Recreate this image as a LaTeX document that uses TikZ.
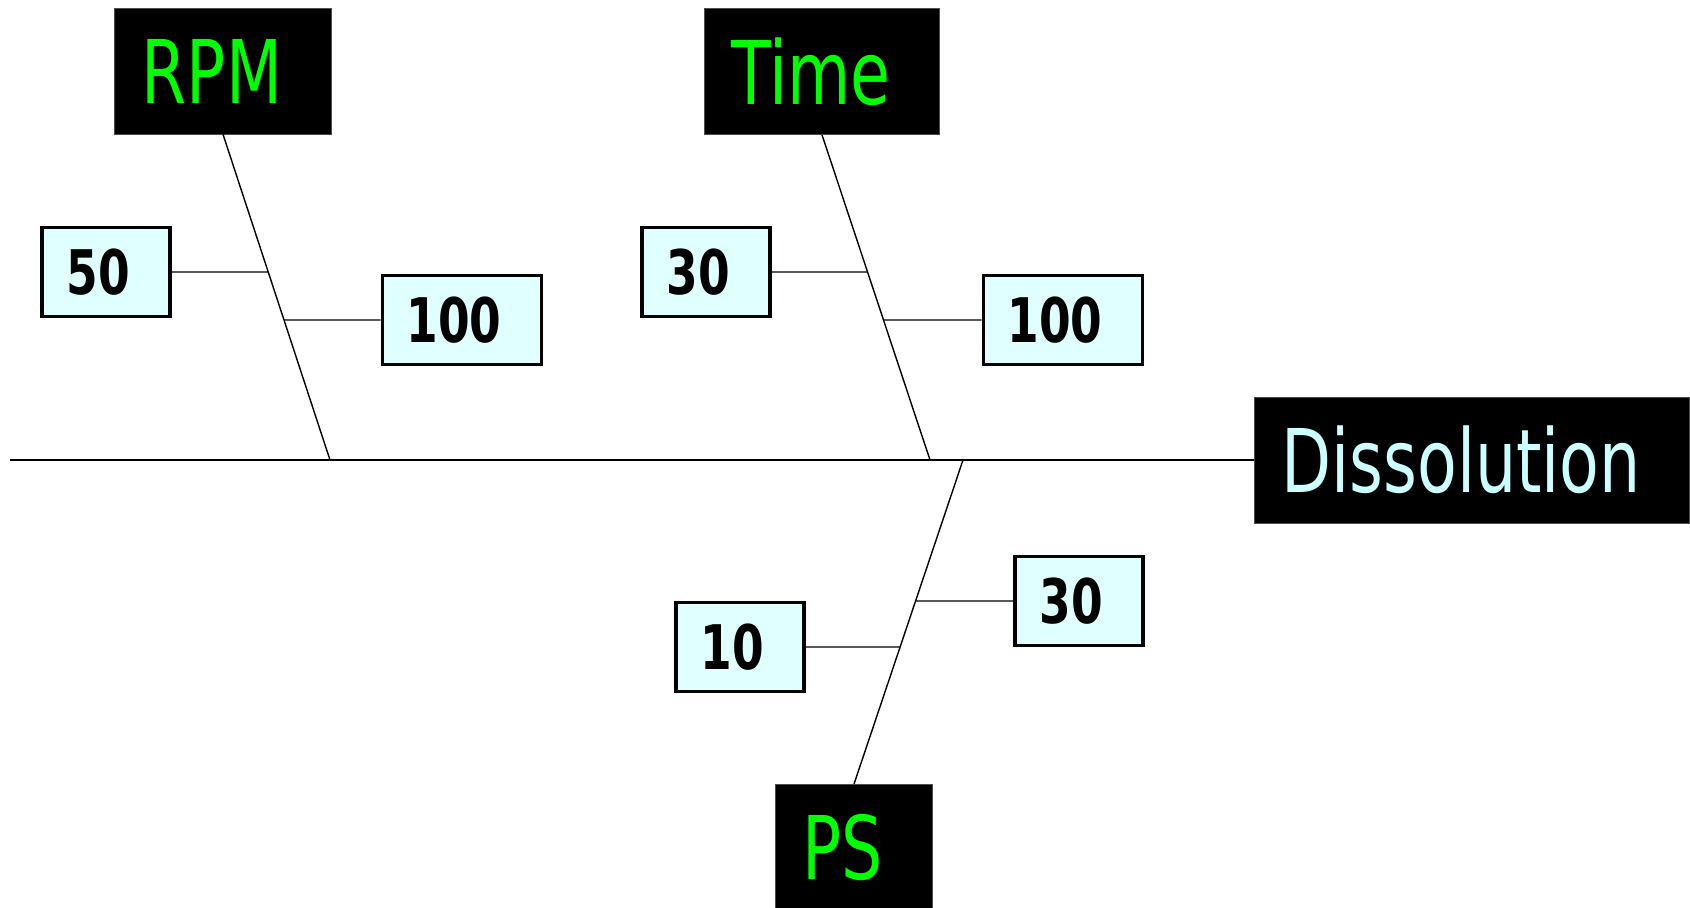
\documentclass[tikz,border=0pt]{standalone}
\usepackage{fontspec}
\newfontfamily\fishfont[FakeStretch=0.74]{DejaVu Sans}
\definecolor{causegreen}{HTML}{00FF00}
\definecolor{valfill}{HTML}{E0FFFF}
\definecolor{effecttext}{HTML}{CCFFFF}

\begin{document}
\begin{tikzpicture}[x=0.02cm, y=0.02cm,
  cause/.style={fill=black, draw=black!70, text=causegreen,
    font=\fishfont\fontsize{50}{60}\selectfont,
    inner xsep=0.54cm, inner ysep=0pt, minimum height=2.52cm},
  val/.style={fill=valfill, draw=black, line width=2.2pt,
    font=\fishfont\bfseries\fontsize{35}{42}\selectfont,
    inner xsep=0.48cm, inner ysep=0pt, minimum height=1.78cm},
  bone/.style={black, line width=0.8pt},
  rib/.style={black, line width=0.6pt}]
  \useasboundingbox (0,0) rectangle (1690,-907);
  % causes and effect
  \node [cause] (rpm) at (223,-71) {RPM\kern0.44cm};
  \node [cause] (time) at (822,-71.5) {Time\kern0.44cm};
  \node [cause, anchor=north] (ps) at (854,-784) {PS\kern0.44cm};
  \node [cause, anchor=west, text=effecttext] (effect) at (1254,-460) {Dissolution\kern0.44cm};
  % spine
  \coordinate (tail) at (10,-460);
  \coordinate (rpmfoot) at (330,-460);
  \coordinate (timefoot) at (930,-460);
  \coordinate (psfoot) at (963,-460);
  \draw [black, line width=1pt] (tail) -- (effect.west);
  \draw [bone] (rpm.south) -- (rpmfoot);
  \draw [bone] (time.south) -- (timefoot);
  \draw [bone] (ps.north) -- (psfoot);
  % levels
  \node [val] (rpmlow) at (106,-272) {50\kern0.32cm};
  \node [val] (rpmhigh) at (462,-320) {100\kern0.32cm};
  \node [val] (timelow) at (706,-272) {30\kern0.32cm};
  \node [val] (timehigh) at (1063,-320) {100\kern0.32cm};
  \node [val] (pshigh) at (1079,-601) {30\kern0.32cm};
  \node [val] (pslow) at (740,-647) {10\kern0.32cm};
  \draw [rib] (rpmlow.east) -- (intersection of rpm.south--rpmfoot and rpmlow.east--rpmlow.west);
  \draw [rib] (rpmhigh.west) -- (intersection of rpm.south--rpmfoot and rpmhigh.east--rpmhigh.west);
  \draw [rib] (timelow.east) -- (intersection of time.south--timefoot and timelow.east--timelow.west);
  \draw [rib] (timehigh.west) -- (intersection of time.south--timefoot and timehigh.east--timehigh.west);
  \draw [rib] (pshigh.west) -- (intersection of ps.north--psfoot and pshigh.east--pshigh.west);
  \draw [rib] (pslow.east) -- (intersection of ps.north--psfoot and pslow.east--pslow.west);
\end{tikzpicture}
\end{document}
